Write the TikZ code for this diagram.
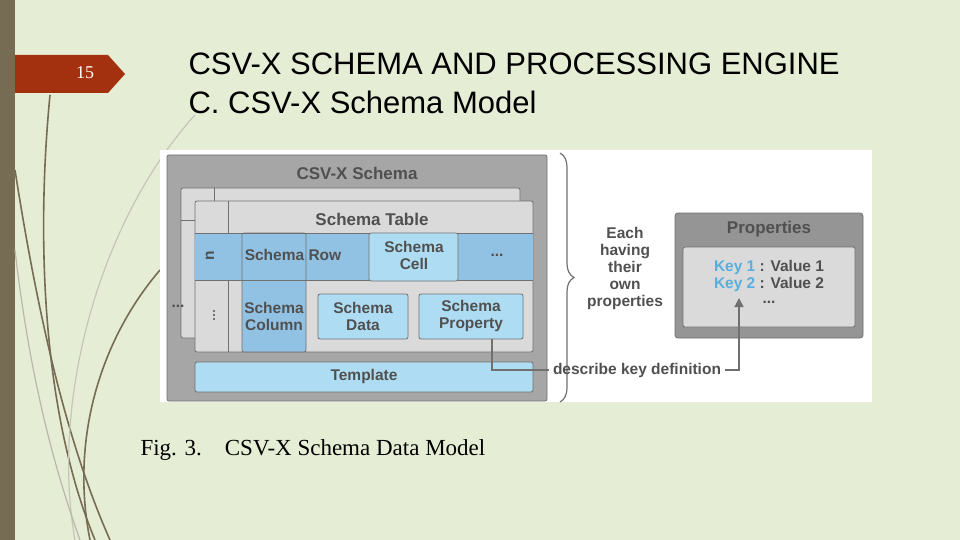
\documentclass[tikz,border=0pt]{standalone}
\usepackage{fontspec}
\setmainfont{Liberation Serif}
\setsansfont{Liberation Sans}
\usetikzlibrary{decorations.pathreplacing,arrows.meta}
\definecolor{bgc}{HTML}{E6EDD5}
\definecolor{barc}{HTML}{766C53}
\definecolor{tagc}{HTML}{A3300F}
\definecolor{outc}{HTML}{A6A6A6}
\definecolor{tabc}{HTML}{DADADA}
\definecolor{rowc}{HTML}{92C2E3}
\definecolor{cellc}{HTML}{AEDDF3}
\definecolor{edgec}{HTML}{707070}
\definecolor{txc}{HTML}{505050}
\definecolor{keyc}{HTML}{5AAEDC}
\begin{document}
\begin{tikzpicture}[x=1pt,y=-1pt,
  lbl/.style={font=\sffamily\bfseries\fontsize{15.5}{17}\selectfont,text=txc,align=center},
  bx/.style={draw=edgec,line width=0.8pt,rounded corners=2pt},
  deco/.style={draw=barc,line width=1.6pt}]
\useasboundingbox (0,0) rectangle (960,540);
\fill[bgc] (0,0) rectangle (960,540);
\fill[barc] (0,0) rectangle (15,540);
% decorative curves
\draw[deco] (15,170) .. controls (40,330) and (70,450) .. (110,540);
\draw[deco] (50,95) .. controls (35,250) and (45,420) .. (95,540);
\draw[deco] (160,270) .. controls (100,340) and (70,440) .. (90,540);
\draw[barc!40,line width=1.2pt] (195,115) .. controls (100,220) and (50,400) .. (75,540);
\draw[barc!50,line width=1.2pt] (15,250) .. controls (30,380) and (55,470) .. (80,540);
% tag
\fill[tagc] (15,55) -- (108,55) -- (125,74) -- (108,93) -- (15,93) -- cycle;
\node[text=white,font=\fontsize{18}{20}\selectfont] (num) at (85,73) {15};
\node[anchor=west,font=\sffamily\fontsize{31}{34}\selectfont,text=black] (t1) at (185,64) {CSV-X SCHEMA AND PROCESSING ENGINE};
\node[anchor=west,font=\sffamily\fontsize{31}{34}\selectfont,text=black] (t2) at (185,102) {C. CSV-X Schema Model};
% image area
\fill[white] (160,150) rectangle (872,402);
% outer schema
\draw[bx,fill=outc] (167,155) rectangle (547,401);
\node[lbl,font=\sffamily\bfseries\fontsize{17}{19}\selectfont] (cs) at (357,173) {CSV-X Schema};
% back table
\draw[bx,fill=tabc] (181,188) rectangle (520,338);
\draw[edgec] (214,188) -- (214,338) (181,220) -- (214,220);
\node[lbl] (bd) at (178,306) {...};
% front table
\draw[bx,fill=tabc] (195,201) rectangle (533,352);
\draw[edgec] (228,201) -- (228,352);
\node[lbl,font=\sffamily\bfseries\fontsize{17}{19}\selectfont] (st) at (372,219) {Schema Table};
\fill[rowc] (195,233) rectangle (533,280);
\draw[bx,fill=rowc] (242,233) rectangle (306,352);
\draw[edgec] (195,233) -- (533,233) (195,280) -- (533,280);
\node[lbl,rotate=90] (n) at (210,256) {n};
\node[lbl] (sr) at (293,255) {Schema Row};
\foreach \yy in {311,315,319} \fill[txc] (214,\yy) circle (1.2);
\node[lbl] (sc) at (274,316) {Schema\\Column};
\draw[bx,fill=cellc] (369,233) rectangle (458,281);
\node[lbl] (cell) at (414,255) {Schema\\Cell};
\node[lbl] (rd) at (497,255) {...};
\draw[bx,fill=cellc] (318,294) rectangle (408,339);
\node[lbl] (sd) at (363,316) {Schema\\Data};
\draw[bx,fill=cellc] (419,294) rectangle (523,339);
\node[lbl] (sp) at (471,316) {Schema\\Property};
\draw[bx,fill=cellc] (195,362) rectangle (533,392);
\node[lbl] (tp) at (364,376) {Template};
% brace
\draw[edgec,line width=1.2pt,decorate,decoration={brace,amplitude=14pt,aspect=0.5}] (560,153) -- (560,402);
\node[lbl] (each) at (625,268) {Each\\having\\their\\own\\properties};
% properties
\draw[bx,fill=outc!90!black,rounded corners=3pt] (675,213) rectangle (863,338);
\node[lbl,font=\sffamily\bfseries\fontsize{17}{19}\selectfont] (pt) at (769,229) {Properties};
\draw[bx,fill=tabc] (683,247) rectangle (855,327);
\node[lbl,align=left] (keys) at (769,276) {\textcolor{keyc}{Key 1} : Value 1\\\textcolor{keyc}{Key 2} : Value 2};
\node[lbl] (kd) at (769,302) {...};
\node[lbl] (desc) at (637,370) {describe key definition};
\draw[edgec,line width=1.2pt] (492,339) |- (desc.west);
\draw[edgec,line width=1.2pt,-{Triangle[length=9pt,width=9pt]}] (desc.east) -| (739,298);
\node[anchor=west,font=\fontsize{23}{26}\selectfont] (cap) at (137,450) {Fig. 3.\quad CSV-X Schema Data Model};
\end{tikzpicture}
\end{document}
